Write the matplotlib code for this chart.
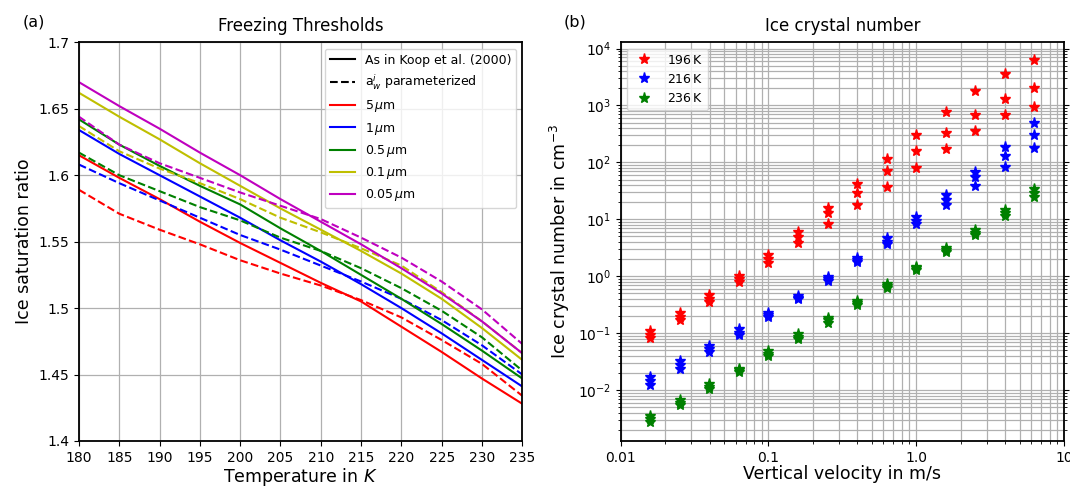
"""Freezing thresholds (a) and ice crystal number vs. vertical velocity (b).

Run::

    python plot.py

Writes out.png (1070x490).
"""

import matplotlib
matplotlib.use("Agg")
import matplotlib.pyplot as plt
from matplotlib.lines import Line2D
from matplotlib.ticker import FormatStrFormatter, MultipleLocator

plt.rcParams["font.family"] = ["DejaVu Sans"]
plt.rcParams["axes.linewidth"] = 1.3

# ---- panel (a): ice saturation ratio thresholds -------------------------
TEMPS = [180, 185, 190, 195, 200, 205, 210, 215, 220, 225, 230, 235]
SIZES = [r"5$\,\mu$m", r"1$\,\mu$m", r"0.5$\,\mu$m", r"0.1$\,\mu$m", r"0.05$\,\mu$m"]
SIZE_COLORS = ["r", "b", "g", "y", "m"]

# As in Koop et al. (2000)
S_KOOP = [
    [1.615, 1.598, 1.582, 1.565, 1.549, 1.534, 1.519, 1.505, 1.486, 1.467, 1.447, 1.428],
    [1.634, 1.616, 1.600, 1.584, 1.568, 1.551, 1.535, 1.518, 1.500, 1.481, 1.461, 1.441],
    [1.642, 1.623, 1.607, 1.592, 1.578, 1.560, 1.543, 1.525, 1.507, 1.488, 1.468, 1.447],
    [1.662, 1.644, 1.627, 1.609, 1.592, 1.575, 1.559, 1.543, 1.526, 1.507, 1.485, 1.461],
    [1.670, 1.652, 1.635, 1.617, 1.600, 1.582, 1.565, 1.548, 1.530, 1.511, 1.490, 1.466],
]
# a_w^i parameterized
S_PARAM = [
    [1.589, 1.571, 1.559, 1.548, 1.536, 1.526, 1.517, 1.506, 1.493, 1.476, 1.458, 1.434],
    [1.608, 1.594, 1.581, 1.568, 1.555, 1.544, 1.532, 1.520, 1.507, 1.491, 1.472, 1.450],
    [1.617, 1.600, 1.588, 1.576, 1.566, 1.553, 1.543, 1.530, 1.515, 1.498, 1.478, 1.453],
    [1.637, 1.618, 1.605, 1.594, 1.582, 1.568, 1.557, 1.545, 1.532, 1.512, 1.490, 1.466],
    [1.644, 1.623, 1.609, 1.598, 1.587, 1.577, 1.567, 1.553, 1.538, 1.520, 1.499, 1.473],
]

# ---- panel (b): ice crystal number ---------------------------------------
VELOCITY = [0.0158, 0.0251, 0.0398, 0.0631, 0.1, 0.158, 0.251, 0.398, 0.631,
            1.0, 1.585, 2.512, 3.981, 6.31]
N_LABELS = [r"196$\,$K", r"216$\,$K", r"236$\,$K"]
N_COLORS = ["r", "b", "g"]

N_196 = [
    [0.108, 0.222, 0.46, 1.02, 2.33, 6.0, 15.6, 41, 113, 305, 773, 1800, 3640, 6240],
    [0.092, 0.194, 0.40, 0.90, 2.04, 4.95, 12.7, 28.6, 69.5, 156, 331, 668, 1274, 2070],
    [0.081, 0.169, 0.35, 0.79, 1.71, 3.8, 8.2, 17.6, 37.3, 80, 171, 354, 676, 944],
]
N_216 = [
    [0.0172, 0.032, 0.059, 0.116, 0.228, 0.446, 0.95, 2.05, 4.6, 10.8, 26.7, 68, 188, 495],
    [0.0144, 0.0275, 0.052, 0.102, 0.207, 0.418, 0.88, 1.9, 4.05, 9.4, 21.8, 56, 131, 301],
    [0.0121, 0.0237, 0.047, 0.091, 0.194, 0.39, 0.83, 1.78, 3.7, 8.2, 17.8, 38.8, 84, 176],
]
N_236 = [
    [0.0035, 0.0067, 0.0126, 0.0237, 0.0483, 0.095, 0.186, 0.36, 0.72, 1.47, 3.15, 6.5, 14.6, 33.6],
    [0.00315, 0.0060, 0.0115, 0.0222, 0.0435, 0.0865, 0.169, 0.332, 0.668, 1.38, 2.86, 5.8, 12.7, 29.3],
    [0.00275, 0.0054, 0.0103, 0.0207, 0.0395, 0.0776, 0.152, 0.306, 0.625, 1.28, 2.64, 5.3, 11.4, 24.3],
]


def panel_a(ax):
    for koop, param, color in zip(S_KOOP, S_PARAM, SIZE_COLORS):
        ax.plot(TEMPS, koop, color=color, lw=1.5)
        ax.plot(TEMPS, param, color=color, lw=1.5, ls="--")

    handles = [Line2D([], [], color="k", lw=1.5, label="As in Koop et al. (2000)"),
               Line2D([], [], color="k", lw=1.5, ls="--", label=r"a$_w^i$ parameterized")]
    handles += [Line2D([], [], color=c, lw=1.5, label=s) for c, s in zip(SIZE_COLORS, SIZES)]
    ax.legend(handles=handles, loc="upper right", fontsize=9)

    ax.set_xlim(180, 235)
    ax.set_ylim(1.4, 1.7)
    ax.xaxis.set_major_locator(MultipleLocator(5))
    ax.yaxis.set_major_locator(MultipleLocator(0.05))
    ax.yaxis.set_major_formatter(FormatStrFormatter("%g"))
    ax.tick_params(labelsize=10)
    ax.grid(True, color="#b0b0b0", lw=0.9)
    ax.set_xlabel(r"Temperature in $K$", fontsize=12.5, labelpad=1)
    ax.set_ylabel("Ice saturation ratio", fontsize=12.5)
    ax.set_title("Freezing Thresholds", fontsize=12, pad=8)


def panel_b(ax):
    for series, color, label in zip([N_196, N_216, N_236], N_COLORS, N_LABELS):
        for i, vals in enumerate(series):
            ax.plot(VELOCITY, vals, "*", color=color, ms=8,
                    label=label if i == 0 else None)

    ax.set_xscale("log")
    ax.set_yscale("log")
    ax.set_xlim(0.01, 10)
    ax.set_ylim(1.27e-3, 1.29e4)
    ax.set_xticks([0.01, 0.1, 1, 10])
    ax.set_xticklabels(["0.01", "0.1", "1.0", "10"])
    ax.tick_params(which="both", right=True, labelsize=10)
    ax.grid(True, which="both", color="#b0b0b0", lw=0.9)
    ax.legend(loc="upper left", fontsize=9)
    ax.set_xlabel("Vertical velocity in m/s", fontsize=12.5, labelpad=0)
    ax.set_ylabel(r"Ice crystal number in cm$^{-3}$", fontsize=12.5)
    ax.set_title("Ice crystal number", fontsize=12, pad=8)


def main():
    fig = plt.figure(figsize=(10.7, 4.9), dpi=100)
    ax_a = fig.add_axes([0.0738, 0.1, 0.4143, 0.8137])
    ax_b = fig.add_axes([0.5801, 0.1, 0.4143, 0.8137])
    panel_a(ax_a)
    panel_b(ax_b)
    fig.text(0.0215, 0.956, "(a)", fontsize=11.5, va="center", ha="left")
    fig.text(0.527, 0.956, "(b)", fontsize=11.5, va="center", ha="left")
    fig.savefig("out.png", dpi=100)


if __name__ == "__main__":
    main()
